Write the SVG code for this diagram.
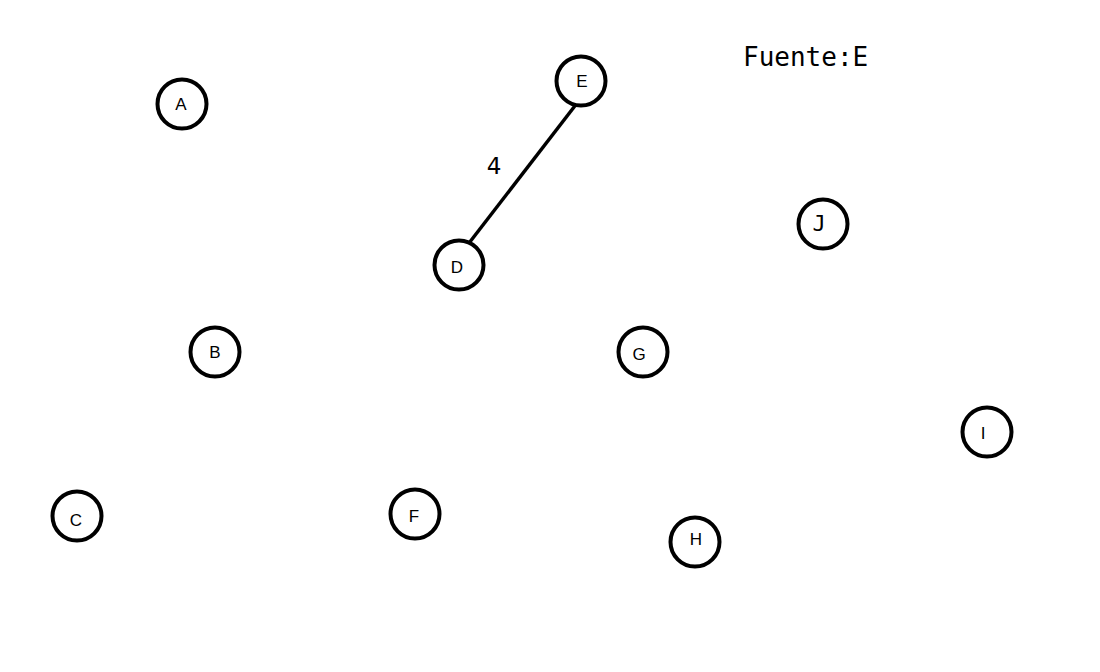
<svg xmlns="http://www.w3.org/2000/svg" width="1100" height="672" viewBox="0 0 1100 672">
<style>
.n circle{fill:#fff;stroke:#000;stroke-width:4}
.n text{font-family:"Liberation Sans",Arial,sans-serif;font-size:17px;text-anchor:middle;dominant-baseline:central;fill:#000}
.e{stroke:#000;stroke-width:3.5;fill:none}
.lbl{font-family:"DejaVu Sans",sans-serif;font-size:23px;fill:#000}
.src{font-family:"DejaVu Sans Mono",monospace;font-size:26px;fill:#000}
</style>
<rect width="1100" height="672" fill="#fff"/>
<g id="edges">
<line class="e" x1="581" y1="98" x2="466" y2="247"/>
<text class="lbl" x="494" y="174" text-anchor="middle">4</text>
</g>
<g id="A" class="n"><circle cx="182" cy="104" r="24.5"/><text x="181" y="104">A</text></g>
<g id="E" class="n"><circle cx="581" cy="81" r="24.5"/><text x="582" y="81">E</text></g>
<g id="D" class="n"><circle cx="459" cy="265" r="24.5"/><text x="457" y="267">D</text></g>
<g id="J" class="n"><circle cx="823" cy="224" r="24.5"/><text x="819" y="223" style="font-family:'DejaVu Sans Mono',monospace;font-size:22px">J</text></g>
<g id="B" class="n"><circle cx="215" cy="352" r="24.5"/><text x="215" y="352">B</text></g>
<g id="G" class="n"><circle cx="643" cy="352" r="24.5"/><text x="639" y="354">G</text></g>
<g id="I" class="n"><circle cx="987" cy="432" r="24.5"/><text x="983" y="433">I</text></g>
<g id="C" class="n"><circle cx="77" cy="516" r="24.5"/><text x="76" y="520">C</text></g>
<g id="F" class="n"><circle cx="415" cy="514" r="24.5"/><text x="414" y="516">F</text></g>
<g id="H" class="n"><circle cx="695" cy="542" r="24.5"/><text x="696" y="539">H</text></g>
<text class="src" x="743" y="66">Fuente:E</text>
</svg>
